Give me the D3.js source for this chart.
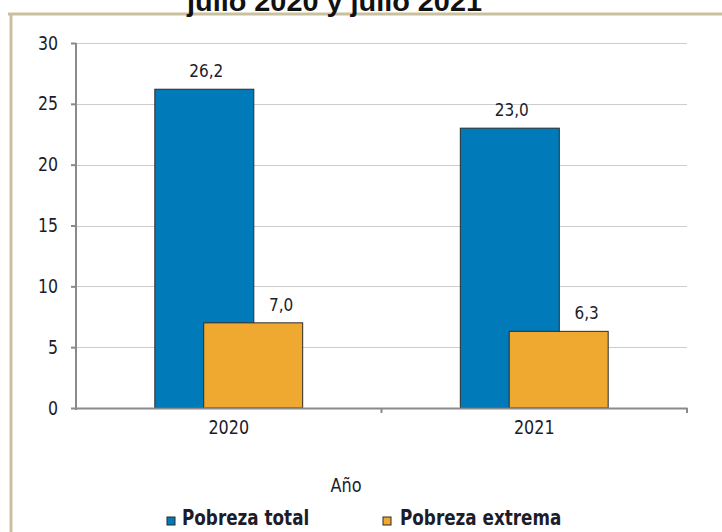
<!DOCTYPE html>
<html>
<head>
<meta charset="utf-8">
<script src="https://cdn.jsdelivr.net/npm/d3@7"></script>
<style>
  body { margin: 0; background: #fff; }
  svg { display: block; }
  .narrow { font-family: "DejaVu Sans", sans-serif; fill: #1c1c2a; }
</style>
</head>
<body>
<div id="chart-area"></div>
<script>
// Pobreza total y extrema, julio 2020 y julio 2021
const years = ['2020', '2021'];
const seriesNames = ['Pobreza total', 'Pobreza extrema'];
const pobrezaTotal = [26.2, 23.0];
const pobrezaExtrema = [7.0, 6.3];
const yTicks = [0, 5, 10, 15, 20, 25, 30];
const colors = ['#007ab8', '#efa830'];

const width = 722;
const height = 532;
const margin = { top: 43, right: 35, bottom: 124, left: 76 };
const innerWidth = width - margin.left - margin.right;
const innerHeight = height - margin.top - margin.bottom;

const esFormat = d3.formatLocale({ decimal: ',', thousands: '.', grouping: [3], currency: ['', ''] }).format('.1f');

// squeeze text horizontally (no narrow font installed)
function condense(sel, k) {
  sel.each(function () {
    const len = this.getComputedTextLength();
    d3.select(this)
      .attr('textLength', len * k)
      .attr('lengthAdjust', 'spacingAndGlyphs');
  });
}

const svg = d3.select('#chart-area')
  .append('svg')
  .attr('width', width)
  .attr('height', height);

// Frame
svg.append('line')
  .attr('x1', 8).attr('x2', width).attr('y1', 14).attr('y2', 14)
  .attr('stroke', '#c9c09d').attr('stroke-width', 3);
svg.append('line')
  .attr('x1', 11).attr('x2', 11).attr('y1', 13).attr('y2', height)
  .attr('stroke', '#c9c09d').attr('stroke-width', 3);

// Title (cut off at top)
svg.append('text')
  .attr('x', 187)
  .attr('y', 11)
  .attr('textLength', 295)
  .attr('lengthAdjust', 'spacingAndGlyphs')
  .style('font-family', '"Liberation Sans", Arial, sans-serif')
  .style('font-weight', 'bold')
  .style('font-size', '27px')
  .style('fill', '#111')
  .text('julio 2020 y julio 2021');

const g = svg.append('g')
  .attr('transform', `translate(${margin.left}, ${margin.top})`);

// Scales
const y = d3.scaleLinear().domain([0, 30]).range([innerHeight, 0]);
const x = d3.scaleBand().domain(years).range([0, innerWidth]).padding(0);
const bw = x.bandwidth();
const barW = bw * 0.324;
const offsets = [-bw * 0.242, -bw * 0.082];

// Gridlines
g.append('g')
  .selectAll('line')
  .data(yTicks.filter((d) => d > 0))
  .enter()
  .append('line')
  .attr('x1', 0).attr('x2', innerWidth)
  .attr('y1', (d) => Math.round(y(d)) + 0.5)
  .attr('y2', (d) => Math.round(y(d)) + 0.5)
  .attr('stroke', '#cdcdcd')
  .attr('stroke-width', 1.2);

// Bars
const series = [pobrezaTotal, pobrezaExtrema];
series.forEach((vals, si) => {
  const rows = years.map((yr, i) => ({ year: yr, value: vals[i] }));
  g.append('g')
    .selectAll('rect')
    .data(rows)
    .enter()
    .append('rect')
    .attr('x', (d) => x(d.year) + bw / 2 + offsets[si])
    .attr('y', (d) => y(d.value))
    .attr('width', barW)
    .attr('height', (d) => y(0) - y(d.value))
    .attr('fill', colors[si])
    .attr('stroke', '#2b2b2b')
    .attr('stroke-width', 1);

  // value labels
  g.append('g')
    .selectAll('text')
    .data(rows)
    .enter()
    .append('text')
    .attr('class', 'narrow')
    .attr('text-anchor', 'middle')
    .attr('x', (d) => x(d.year) + bw / 2 + offsets[si] + barW / 2 + (si === 1 ? 28 : 2))
    .attr('y', (d) => y(d.value) - 12)
    .style('font-size', '18px')
    .text((d) => esFormat(d.value))
    .call(condense, 0.85);
});

// Y axis
const yAxis = g.append('g')
  .call(d3.axisLeft(y).tickValues(yTicks).tickSizeInner(5).tickSizeOuter(0).tickPadding(13));
yAxis.select('.domain').attr('stroke', '#8a8a8a').attr('stroke-width', 2).attr('d', `M0,0V${innerHeight + 2}`);
yAxis.selectAll('.tick line').attr('stroke', '#8a8a8a').attr('stroke-width', 2);
yAxis.selectAll('.tick text')
  .attr('class', 'narrow')
  .style('font-size', '19px')
  .call(condense, 0.83);

// X axis
const xAxis = g.append('g')
  .attr('transform', `translate(0, ${innerHeight})`)
  .call(d3.axisBottom(x).tickSize(0).tickPadding(13));
xAxis.select('.domain').attr('stroke', '#8a8a8a').attr('stroke-width', 2);
xAxis.selectAll('.tick text')
  .attr('class', 'narrow')
  .style('font-size', '19px')
  .call(condense, 0.84);
// category boundary ticks
xAxis.append('g')
  .selectAll('line')
  .data(years.slice(1).map((d) => x(d)).concat([innerWidth]))
  .enter()
  .append('line')
  .attr('x1', (d) => d).attr('x2', (d) => d)
  .attr('y1', 0).attr('y2', 5)
  .attr('stroke', '#8a8a8a')
  .attr('stroke-width', 2);

// X label
svg.append('text')
  .attr('class', 'narrow')
  .attr('x', 346)
  .attr('y', 492)
  .attr('text-anchor', 'middle')
  .style('font-size', '19px')
  .text('Año')
  .call(condense, 0.85);

// Legend
const legendX = [167, 383];
const legend = svg.append('g');
const legendRows = legend.selectAll('g')
  .data(seriesNames)
  .enter()
  .append('g')
  .attr('transform', (d, i) => `translate(${legendX[i]}, 517)`);
legendRows.append('rect')
  .attr('width', 8)
  .attr('height', 8)
  .attr('fill', (d, i) => colors[i])
  .attr('stroke', '#2b2b2b')
  .attr('stroke-width', 1);
legendRows.append('text')
  .attr('class', 'narrow')
  .attr('x', (d, i) => (i === 0 ? 15 : 17))
  .attr('y', 8)
  .style('font-size', '21px')
  .style('font-weight', 'bold')
  .text((d) => d)
  .call(condense, 0.8);
</script>
</body>
</html>
